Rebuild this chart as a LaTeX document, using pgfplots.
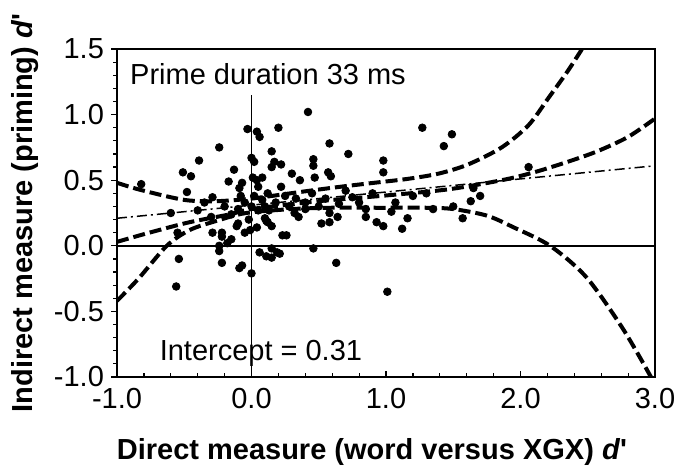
\documentclass[border=0pt]{standalone}
\usepackage{fontspec}
\setmainfont{Liberation Sans}
\usepackage{pgfplots}
\pgfplotsset{compat=1.18}
\begin{document}
\begin{tikzpicture}
\begin{axis}[
    scale only axis,
    width=269pt, height=164pt,
    xmin=-1, xmax=3, ymin=-1, ymax=1.5,
    xtick={-1,0,1,2,3}, xticklabels={-1.0,0.0,1.0,2.0,3.0},
    ytick={-1,-0.5,0,0.5,1,1.5}, yticklabels={-1.0,-0.5,0.0,0.5,1.0,1.5},
    minor x tick num=4, minor y tick num=4,
    xtick pos=left, ytick pos=left,
    xtick align=inside, ytick align=outside,
    major tick length=3pt, minor tick length=2pt,
    tick style={black, line width=0.6pt},
    axis line style={line width=0.8pt},
    ticklabel style={font=\fontsize{14.5}{16}\selectfont},
    xticklabel style={yshift=-2pt},
    label style={font=\fontsize{14.5}{16}\selectfont\bfseries},
    xlabel={Direct measure (word versus XGX) \textit{d}\textquotesingle},
    ylabel={Indirect measure (priming) \textit{d}\textquotesingle},
    xlabel style={yshift=-8pt, xshift=-7pt},
    ylabel style={yshift=1pt},
]
% reference lines
\draw[line width=0.7pt] (axis cs:-1,0) -- (axis cs:3,0);
\draw[line width=0.7pt] (axis cs:0,-1) -- (axis cs:0,1.15);

% linear fit
\addplot[line width=0.75pt, dash pattern=on 5pt off 2pt on 1pt off 2pt] coordinates {(-1,0.21) (3,0.61)};

% cubic fit
\addplot[line width=2pt, dash pattern=on 6pt off 2.5pt, smooth] coordinates {
(-1,0.03) (-0.76,0.10) (-0.46,0.18) (-0.16,0.24) (0,0.28) (0.5,0.34) (0.96,0.38)
(1.46,0.43) (1.86,0.50) (2.1,0.56) (2.35,0.64) (2.57,0.72) (2.8,0.83) (3.0,0.97)};

% upper band
\addplot[line width=2pt, dash pattern=on 6pt off 2.5pt, smooth] coordinates {
(-1.0,0.48) (-0.84,0.43) (-0.6,0.37) (-0.46,0.345) (-0.26,0.34) (0,0.36) (0.36,0.41)
(0.66,0.45) (0.91,0.48) (1.16,0.51) (1.39,0.55) (1.61,0.62) (1.86,0.75) (2.06,0.92)
(2.21,1.13) (2.35,1.33) (2.47,1.52)};

% lower band
\addplot[line width=2pt, dash pattern=on 6pt off 2.5pt, smooth] coordinates {
(-1,-0.42) (-0.84,-0.25) (-0.63,0) (-0.46,0.12) (-0.26,0.19) (-0.04,0.25) (0.3,0.28)
(0.59,0.29) (0.96,0.29) (1.3,0.29) (1.5,0.28) (1.75,0.23) (1.95,0.14) (2.22,0)
(2.49,-0.24) (2.76,-0.63) (2.97,-1.0)};

% data points
\addplot[only marks, mark=*, mark size=1.9pt, black] coordinates {
(-0.03,0.89) (0.04,0.87) (0.06,0.83) (0.20,0.90) (-0.24,0.75) (-0.39,0.65)
(0.15,0.72) (0.00,0.67) (0.02,0.64) (0.17,0.64) (0.22,0.62) (0.15,0.60)
(-0.51,0.56) (-0.45,0.53) (-0.13,0.58) (0.01,0.52) (0.08,0.52) (0.04,0.50)
(-0.17,0.49) (-0.07,0.48) (-0.09,0.44) (-0.82,0.47) (-0.48,0.41) (-0.29,0.37)
(-0.08,0.38) (0.42,1.02) (0.58,0.78) (0.72,0.70) (0.98,0.65) (0.98,0.56)
(0.46,0.66) (0.46,0.61) (0.30,0.55) (0.36,0.50) (0.57,0.56) (0.59,0.53)
(0.47,0.52) (1.27,0.90) (1.49,0.85) (1.43,0.76) (2.06,0.60) (1.63,0.34)
(1.70,0.38) (1.16,0.21) (1.57,0.21) (1.07,0.33) (0.98,0.15) (1.12,0.13)
(1.35,0.28) (1.04,0.26) (0.58,0.18) (0.64,0.22) (0.85,0.22) (0.93,0.18)
(0.63,-0.13) (1.01,-0.35) (0.23,0.08) (0.21,-0.06) (0.46,-0.02) (0.52,0.17)
(0.58,0.25) (0.32,0.25) (0.13,0.27) (0.10,0.21) (0.12,0.18) (-0.05,0.10)
(-0.01,0.12) (0.04,0.14) (-0.10,0.17) (-0.22,0.10) (-0.22,0.07) (-0.29,0.10)
(-0.15,0.05) (-0.18,0.02) (-0.24,0.00) (-0.24,-0.04) (-0.54,-0.10) (-0.22,-0.13)
(0.06,-0.05) (0.11,-0.08) (0.15,-0.09) (0.19,-0.05) (0.00,-0.21) (-0.55,0.10)
(-0.56,-0.31) (-0.09,-0.17) (-0.07,-0.15) (-0.11,0.15) (0.15,-0.02) (0.26,0.08)
(0.11,0.19) (0.15,0.15) (-0.60,0.25) (-0.40,0.27) (-0.35,0.33) (-0.20,0.30)
(-0.10,0.28) (-0.05,0.33) (0.00,0.30) (0.02,0.38) (0.05,0.27) (0.08,0.35)
(0.12,0.40) (0.18,0.33) (0.25,0.38) (0.28,0.30) (0.33,0.36) (0.40,0.33)
(0.45,0.40) (0.50,0.30) (0.55,0.36) (0.65,0.32) (0.75,0.37) (0.85,0.28)
(0.90,0.40) (1.20,0.38) (1.30,0.40) (1.50,0.30) (-0.30,0.22) (-0.15,0.24)
(0.35,0.22) (0.70,0.42) (0.05,0.45) (-0.02,0.20) (0.22,0.45) (0.40,0.28)
(0.80,0.33) (1.65,0.44) (0.10,0.30)};

\node[anchor=west, fill=white, inner sep=1pt, font=\fontsize{14.5}{16}\selectfont] at (axis cs:-0.92,1.31) {Prime duration 33 ms};
\node[anchor=west, inner sep=1pt, font=\fontsize{14.5}{16}\selectfont] at (axis cs:-0.70,-0.82) {Intercept = 0.31};
\node[anchor=south east, inner sep=1pt, font=\fontsize{14.5}{16}\selectfont] at (rel axis cs:1,1) {\textit{N} = 129};
\end{axis}
\pgfresetboundingbox
\path[use as bounding box] ([xshift=-58.5pt,yshift=-47pt]current axis.south west) rectangle ([xshift=10.5pt,yshift=24.5pt]current axis.north east);
\end{tikzpicture}
\end{document}
